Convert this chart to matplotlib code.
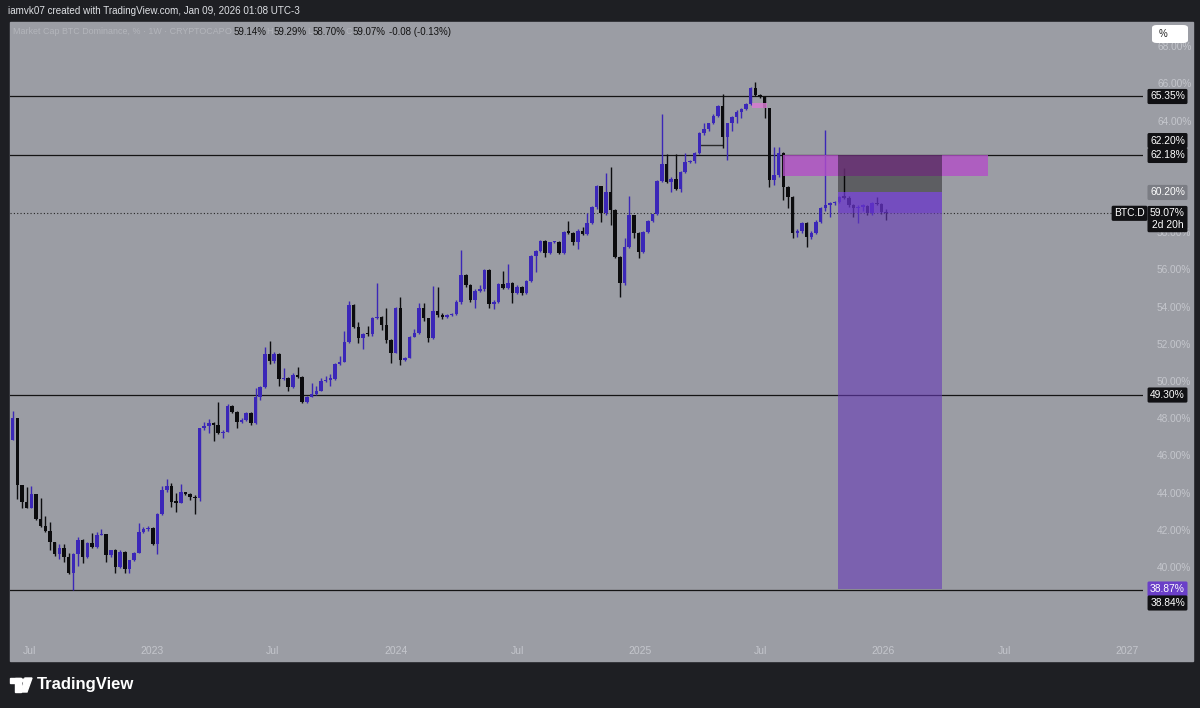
import numpy as np
import pandas as pd
import matplotlib
matplotlib.use("Agg")
import matplotlib.pyplot as plt
import matplotlib.dates as mdates
import matplotlib.transforms as mtransforms
from matplotlib.patches import Rectangle, FancyBboxPatch, Circle, Polygon

# weekly BTC dominance candles, first week starting 2022-05-30
first_open = 46.34
closes = [
    46.88, 48.08, 44.46, 43.56, 43.24, 43.98, 42.62, 42.27, 42.01, 41.38,
    40.75, 41.09, 40.61, 39.72, 40.74, 41.49, 40.58, 41.33, 41.15, 41.77,
    41.83, 40.70, 40.97, 40.04, 40.88, 39.93, 40.43, 40.82, 41.92, 42.08,
    42.17, 41.29, 42.89, 44.19, 44.41, 43.56, 43.51, 44.07, 43.96, 43.83,
    43.75, 47.51, 47.63, 47.81, 47.69, 47.24, 47.33, 48.73, 48.40, 47.87,
    47.96, 48.32, 47.80, 49.21, 49.72, 51.51, 51.13, 51.51, 50.15, 50.20,
    49.75, 50.38, 50.25, 48.94, 49.21, 49.34, 49.53, 50.05, 50.11, 50.16,
    50.97, 51.09, 52.17, 54.14, 52.97, 52.35, 52.58, 52.56, 53.42, 53.51,
    53.06, 52.26, 51.58, 53.99, 51.18, 51.31, 52.44, 52.62, 53.96, 53.42,
    52.35, 53.83, 53.60, 53.48, 53.60, 53.66, 54.32, 55.75, 55.22, 54.41,
    54.91, 54.98, 56.02, 54.19, 54.32, 55.25, 55.07, 55.34, 54.80, 55.12,
    54.80, 55.43, 56.79, 57.06, 57.60, 56.95, 57.51, 57.54, 56.95, 58.06,
    58.03, 57.54, 58.13, 57.96, 58.53, 59.39, 60.54, 59.07, 60.20, 59.25,
    56.74, 55.32, 57.26, 58.98, 58.00, 57.01, 58.08, 58.67, 59.02, 60.81,
    61.70, 60.77, 60.91, 60.38, 61.31, 61.81, 61.88, 62.30, 63.37, 63.60,
    63.91, 64.32, 64.84, 63.19, 63.91, 64.26, 64.53, 64.68, 64.93, 65.79,
    65.43, 65.34, 64.72, 60.86, 61.13, 62.30, 60.50, 59.96, 58.00, 58.12,
    58.53, 57.78, 58.00, 58.62, 59.34, 59.52, 59.61, 59.69, 59.93, 59.91,
    59.52, 59.34, 59.41, 59.46, 59.10, 59.64, 59.57, 59.14, 59.07,
]
highs = [
    47.00, 48.46, 48.08, 44.46, 44.37, 44.41, 43.98, 43.75, 42.80, 42.49,
    41.38, 41.29, 41.27, 40.79, 40.79, 41.65, 41.55, 41.41, 41.90, 41.95,
    42.08, 41.85, 40.99, 41.00, 40.95, 40.91, 40.45, 40.85, 42.40, 42.22,
    42.27, 42.20, 42.95, 44.41, 44.78, 44.55, 44.02, 44.50, 44.09, 44.02,
    43.92, 47.55, 47.87, 47.99, 47.85, 48.91, 47.40, 48.82, 48.76, 48.45,
    48.05, 48.40, 48.40, 49.66, 49.80, 51.90, 52.22, 51.60, 51.55, 50.75,
    50.25, 50.48, 50.79, 50.30, 49.25, 49.93, 49.78, 50.20, 50.32, 50.41,
    51.00, 51.40, 52.74, 54.37, 54.20, 53.24, 52.65, 53.03, 53.50, 55.34,
    53.55, 53.99, 52.30, 54.05, 54.59, 51.35, 52.50, 52.85, 54.23, 54.23,
    53.45, 55.16, 55.12, 53.70, 53.65, 53.70, 54.40, 57.10, 55.80, 55.25,
    55.00, 55.22, 56.10, 56.10, 54.40, 55.30, 55.98, 56.34, 55.40, 55.20,
    55.15, 55.50, 56.85, 57.10, 57.65, 57.65, 57.55, 57.60, 57.60, 58.10,
    58.66, 58.05, 58.20, 58.35, 59.07, 59.45, 60.60, 60.55, 61.22, 61.58,
    59.30, 56.80, 57.73, 60.02, 59.00, 58.05, 58.10, 58.70, 59.05, 60.85,
    64.39, 62.24, 61.00, 62.24, 61.35, 62.29, 61.95, 62.35, 63.45, 63.91,
    63.95, 64.40, 64.90, 65.47, 63.95, 64.30, 64.60, 64.75, 65.00, 65.85,
    66.15, 65.50, 65.35, 64.75, 62.65, 62.65, 62.35, 60.55, 60.00, 58.20,
    58.60, 58.60, 58.10, 58.70, 59.40, 63.55, 59.70, 59.75, 60.00, 61.49,
    60.00, 59.55, 59.50, 59.55, 59.50, 59.70, 59.93, 59.60, 59.29,
]
lows = [
    46.20, 46.88, 43.69, 43.21, 43.21, 43.24, 42.60, 42.22, 41.95, 40.97,
    40.66, 40.48, 40.34, 39.70, 38.84, 40.11, 40.28, 40.55, 41.10, 41.06,
    41.75, 40.34, 40.61, 39.72, 39.98, 39.72, 39.75, 40.40, 40.80, 41.90,
    42.00, 41.25, 40.75, 42.85, 44.10, 43.30, 43.03, 43.48, 43.90, 43.66,
    42.89, 43.62, 47.40, 47.24, 46.83, 47.20, 46.97, 47.30, 48.35, 47.51,
    47.80, 47.90, 47.69, 47.75, 49.03, 49.70, 50.95, 51.00, 49.78, 50.10,
    49.53, 49.70, 50.20, 48.89, 48.89, 49.20, 49.30, 49.50, 50.00, 49.78,
    50.10, 50.90, 51.05, 52.10, 52.90, 52.08, 51.76, 52.50, 52.50, 53.40,
    52.80, 52.08, 51.01, 51.55, 50.91, 51.15, 51.30, 52.40, 52.60, 53.30,
    52.15, 52.30, 53.50, 53.40, 53.45, 53.55, 53.60, 54.20, 55.10, 54.30,
    53.96, 54.85, 54.90, 53.96, 53.90, 54.25, 55.00, 55.00, 54.26, 54.75,
    54.70, 54.75, 55.40, 55.93, 57.00, 56.70, 56.90, 57.45, 56.90, 56.90,
    57.95, 57.37, 57.13, 57.90, 57.90, 58.50, 59.30, 58.62, 59.00, 58.44,
    56.65, 54.57, 55.20, 57.20, 57.73, 56.68, 56.95, 58.00, 58.60, 59.00,
    60.75, 60.70, 60.23, 60.30, 60.23, 61.25, 61.75, 61.80, 62.25, 63.30,
    63.50, 63.85, 64.25, 62.56, 61.94, 63.50, 63.90, 64.20, 64.60, 64.90,
    65.35, 65.25, 64.18, 60.50, 60.59, 61.00, 59.78, 59.34, 57.73, 57.81,
    58.00, 57.24, 57.70, 57.95, 58.55, 59.20, 58.89, 59.50, 59.60, 59.85,
    59.40, 58.89, 58.53, 59.20, 59.00, 59.00, 59.50, 59.05, 58.70,
]

levels = [65.35, 62.18, 49.30, 38.84]
last_price = 59.07
entry, stop, target = 60.20, 62.20, 38.87
ob_low, ob_high = 61.08, 62.18
# 60 and 62 sit fully under the entry / level tags, so they are not shown
price_ticks = [40, 42, 44, 46, 48, 50, 52, 54, 56, 58, 64, 66, 68]
time_ticks = ["2022-07-01", "2023-01-01", "2023-07-01", "2024-01-01", "2024-07-01",
              "2025-01-01", "2025-07-01", "2026-01-01", "2026-07-01", "2027-01-01"]
time_labels = ["Jul", "2023", "Jul", "2024", "Jul", "2025", "Jul", "2026", "Jul", "2027"]

BG = "#9b9da4"
DARK = "#1e1f23"
UP = "#3b27b8"
DOWN = "#0c0c0e"
FAINT = "#c4c6cc"

plt.rcParams["font.family"] = ["Liberation Sans", "DejaVu Sans"]

W, H = 1200, 708
fig = plt.figure(figsize=(12, 7.08), dpi=100, facecolor=DARK)


def fx(px):
    return px / W


def fy(py):
    return 1 - py / H


fig.patches.append(Rectangle((fx(10), fy(661)), fx(1183), 639 / H,
                             transform=fig.transFigure, color=BG, zorder=-5))

ax = fig.add_axes([fx(10), fy(640), fx(1133), 618 / H])
ax.set_zorder(1)
ax.set_facecolor("none")
for s in ax.spines.values():
    s.set_visible(False)
ax.set_ylim(36.13, 69.355)
ax.set_xlim(mdates.datestr2num("2022-06-02"), mdates.datestr2num("2027-01-25"))

dates = pd.date_range("2022-05-30", periods=len(closes), freq="7D")
x = mdates.date2num(dates)
c = np.array(closes)
o = np.r_[first_open, c[:-1]]
hi = np.maximum(np.array(highs), np.maximum(o, c))
lo = np.minimum(np.array(lows), np.minimum(o, c))
cols = np.where(c >= o, UP, DOWN)

ax.vlines(x, lo, hi, colors=cols, linewidth=1.0, zorder=3)
ax.bar(x, np.maximum(np.abs(c - o), 0.08), bottom=np.minimum(o, c), width=5.3,
       color=cols, linewidth=0, zorder=3)

for lv in levels:
    ax.axhline(lv, color="#141414", linewidth=0.9, zorder=2)
ax.axhline(last_price, xmax=(1117 - 10) / 1133, color="#262626", linewidth=0.8,
           linestyle=(0, (1, 2)), zorder=2)
ax.hlines(62.74, x[148], x[153], color="#2a2a2a", linewidth=1.0, zorder=2)

d = mdates.datestr2num
# order block and small peak block
ax.add_patch(Rectangle((d("2025-08-04"), ob_low), d("2026-06-07") - d("2025-08-04"),
                       ob_high - ob_low, facecolor="#b34fc8", alpha=0.8, lw=0, zorder=4))
ax.add_patch(Rectangle((d("2025-06-18"), 64.75), d("2025-07-10") - d("2025-06-18"),
                       0.23, facecolor="#d67bd0", alpha=0.85, lw=0, zorder=4))
# short position tool
p0, p1 = d("2025-10-25"), d("2026-03-30")
ax.add_patch(Rectangle((p0, entry), p1 - p0, stop - entry,
                       facecolor="black", alpha=0.4, lw=0, zorder=5))
ax.add_patch(Rectangle((p0, target), p1 - p0, entry - target,
                       facecolor="#673ab7", alpha=0.6, lw=0, zorder=5))
ax.add_patch(Rectangle((p0, last_price), p1 - p0, entry - last_price,
                       facecolor="#6a2fd9", alpha=0.4, lw=0, zorder=5))

ax.set_yticks([])
ax.set_xticks(mdates.datestr2num(time_ticks), time_labels)
ax.tick_params(axis="x", length=0, pad=4, labelsize=7.5, labelcolor=FAINT)

# price scale
tr = mtransforms.blended_transform_factory(ax.transAxes, ax.transData)
for t in price_ticks:
    ax.text((1157 - 10) / 1133, t, f"{t:.2f}%", transform=tr, fontsize=7.3,
            color=FAINT, va="center", ha="left", clip_on=False, zorder=1)

bx = (1167.5 - 10) / 1133


def tag(y, s, fc, tc="white"):
    ax.text(bx, y, s, transform=tr, fontsize=7.4, color=tc, va="center", ha="center",
            clip_on=False, zorder=10, linespacing=1.15,
            bbox=dict(boxstyle="round,pad=0.25,rounding_size=0.15", fc=fc, ec="none"))


tag(65.35, "65.35%", "#111114")
tag(62.98, "62.20%", "#111114")
tag(62.18, "62.18%", "#111114")
tag(60.19, "60.20%", "#7b7d84")
tag(58.76, "59.07%\n2d 20h", "#111114")
tag(49.30, "49.30%", "#111114")
tag(38.87, "38.87%", "#6a3fc8")
tag(38.12, "38.84%", "#111114")
ax.text((1129.5 - 10) / 1133, last_price, "BTC.D", transform=tr, fontsize=7.4,
        color="white", va="center", ha="center", clip_on=False, zorder=10,
        bbox=dict(boxstyle="round,pad=0.25,rounding_size=0.15", fc="#111114", ec="none"))

# % button
fig.patches.append(FancyBboxPatch((fx(1152), fy(43)), fx(36), 18 / H,
                                  boxstyle="round,pad=0,rounding_size=0.004",
                                  transform=fig.transFigure, fc="white", ec="none", zorder=5))
fig.text(fx(1159), fy(34), "%", fontsize=7, color="#222", va="center", ha="left", zorder=6)

# header and legend
fig.text(fx(8), fy(11), "iamvk07 created with TradingView.com, Jan 09, 2026 01:08 UTC-3",
         fontsize=7.1, color="#e0e2e6", va="center")
fig.text(fx(13), fy(32), "Market Cap BTC Dominance, % · 1W · CRYPTOCAP",
         fontsize=6.4, color="#b3b5bb", va="center")
for px, lab in [(225, "O"), (266, "H"), (307, "L"), (345, "C")]:
    fig.text(fx(px), fy(32), lab, fontsize=6.4, color="#b3b5bb", va="center")
for px, val in [(234, "59.14%"), (274, "59.29%"), (313, "58.70%"), (353, "59.07%"),
                (389, "-0.08 (-0.13%)")]:
    fig.text(fx(px), fy(32), val, fontsize=7.0, color="#121212", va="center")

# TradingView brand
fig.patches.append(Rectangle((fx(10), fy(683)), fx(11), 5 / H, transform=fig.transFigure,
                             color="white", zorder=5))
fig.patches.append(Rectangle((fx(15), fy(692)), fx(6), 14 / H, transform=fig.transFigure,
                             color="white", zorder=5))
fig.patches.append(Polygon([(fx(25), fy(678)), (fx(32), fy(678)), (fx(27), fy(692)),
                            (fx(21), fy(692))], closed=True, transform=fig.transFigure,
                           color="white", zorder=5))
fig.patches.append(Circle((fx(23.5), fy(680.5)), 2.3 / W, transform=fig.transFigure,
                          color="white", zorder=6))
fig.text(fx(37), fy(685), "TradingView", fontsize=12, fontweight="bold",
         color="white", va="center", ha="left")

fig.savefig("out.png", dpi=100, facecolor=DARK)
